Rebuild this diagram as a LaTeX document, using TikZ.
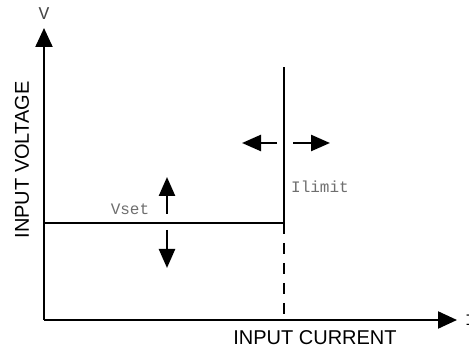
\documentclass[tikz,border=0pt]{standalone}
\usepackage{fontspec}
\setmainfont{Liberation Sans}
\newfontfamily\monofont{Liberation Mono}
\usetikzlibrary{arrows.meta}
\definecolor{labelgray}{RGB}{110,110,110}
\definecolor{vgray}{RGB}{70,70,70}

\tikzset{
  axis/.style={line width=2.2pt, -{Triangle[length=19pt,width=17pt]}},
  shift arrow/.style={line width=2.5pt, -{Triangle[length=19pt,width=16pt]}},
  curve/.style={line width=2.2pt},
  tag/.style={font=\monofont\fontsize{16}{19}\selectfont, text=labelgray, inner sep=0pt},
  title/.style={font=\fontsize{20}{24}\selectfont, inner sep=0pt}
}

\begin{document}
\begin{tikzpicture}[x=1pt,y=1pt]
\useasboundingbox (0,0) rectangle (469,353);
% axes
\coordinate (O) at (44,33);
\coordinate (Vtop) at (44,325);
\coordinate (Iend) at (457,33);
\draw[axis] (O) -- (Vtop);
\draw[axis] (O) -- (Iend);
\node[tag, text=vgray, font=\monofont\fontsize{18}{20}\selectfont] (V) at (44,339) {V};
\node[tag, text=black] (I) at (470,33) {I};
\node[title] (xlab) at (315,15) {INPUT CURRENT};
\node[title, rotate=90] (ylab) at (22,193) {INPUT VOLTAGE};
% characteristic
\coordinate (Vl) at (44,130);
\coordinate (K) at (284,130);
\coordinate (Ktop) at (284,286);
\coordinate (Kbot) at (284,33);
\draw[curve] (Vl) -- (K) -- (Ktop);
\draw[curve, dash pattern=on 11pt off 9pt] (K) -- (Kbot);
\node[tag] (vset) at (130,144) {Vset};
\node[tag] (ilimit) at (320,166) {Ilimit};
% shifting arrows
\coordinate (u0) at (167,139); \coordinate (u1) at (167,176);
\coordinate (d0) at (167,123); \coordinate (d1) at (167,85);
\coordinate (l0) at (277,210); \coordinate (l1) at (242,210);
\coordinate (r0) at (293,210); \coordinate (r1) at (330,210);
\draw[shift arrow] (u0) -- (u1);
\draw[shift arrow] (d0) -- (d1);
\draw[shift arrow] (l0) -- (l1);
\draw[shift arrow] (r0) -- (r1);
\end{tikzpicture}
\end{document}
